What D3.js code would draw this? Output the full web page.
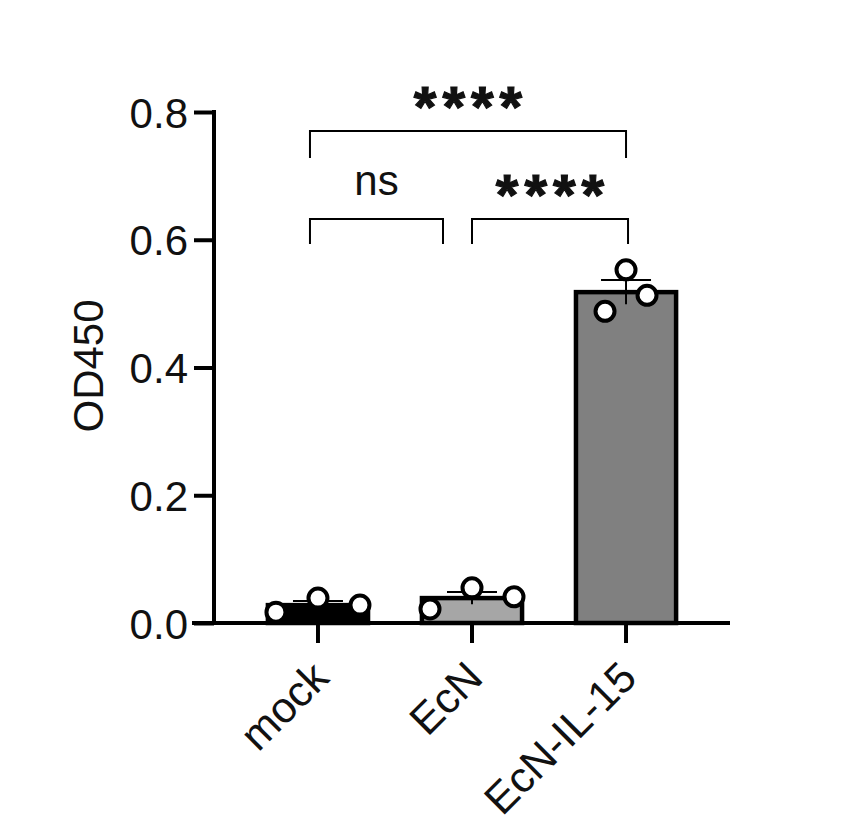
<!DOCTYPE html>
<html><head><meta charset="utf-8">
<script src="https://cdn.jsdelivr.net/npm/d3@7"></script>
<style>body{margin:0;background:#fff}</style>
</head><body>
<script>
const categories = ["mock", "EcN", "EcN-IL-15"];
const means = [0.028, 0.039, 0.518];
const sems = [0.0065, 0.0095, 0.019];
const points = [[0.017, 0.039, 0.028], [0.022, 0.055, 0.041], [0.488, 0.553, 0.513]];
const barColors = ["#000000", "#a6a6a6", "#808080"];
const yTicks = [0, 0.2, 0.4, 0.6, 0.8];
const comparisons = [
  {from: "mock", to: "EcN-IL-15", label: "****", level: 1},
  {from: "mock", to: "EcN", label: "ns", level: 0},
  {from: "EcN", to: "EcN-IL-15", label: "****", level: 0}
];

const W = 847, H = 840;
const svg = d3.select("body").append("svg").attr("width", W).attr("height", H)
  .style("font-family", "Liberation Sans, Arial, sans-serif");

const x = d3.scaleBand().domain(categories).range([214, 730]).paddingInner(0.35).paddingOuter(0.35);
const y = d3.scaleLinear().domain([0, 0.8]).range([623, 112]);

// bars
svg.selectAll("rect.bar").data(categories).enter().append("rect")
  .attr("x", d => x(d)).attr("width", x.bandwidth())
  .attr("y", (d, i) => y(means[i])).attr("height", (d, i) => y(0) - y(means[i]))
  .attr("fill", (d, i) => barColors[i]).attr("stroke", "#000").attr("stroke-width", 4.5);

// error bars (upper cap only)
categories.forEach((c, i) => {
  const cx = x(c) + x.bandwidth() / 2;
  const g = svg.append("g");
  g.append("line").attr("x1", cx).attr("x2", cx)
    .attr("y1", y(means[i] - sems[i])).attr("y2", y(means[i] + sems[i]))
    .attr("stroke", "#000").attr("stroke-width", 2);
  g.append("line").attr("x1", cx - 25).attr("x2", cx + 25)
    .attr("y1", y(means[i] + sems[i])).attr("y2", y(means[i] + sems[i]))
    .attr("stroke", "#000").attr("stroke-width", 2);
});

// points
const offsets = [[-42, 0, 42], [-42, 0, 42], [-21, 0, 21]];
categories.forEach((c, i) => {
  const cx = x(c) + x.bandwidth() / 2;
  svg.selectAll(null).data(points[i]).enter().append("circle")
    .attr("cx", (d, j) => cx + offsets[i][j]).attr("cy", d => y(d)).attr("r", 9.5)
    .attr("fill", "#fff").attr("stroke", "#000").attr("stroke-width", 4);
});

// axes
const yAxis = d3.axisLeft(y).tickValues(yTicks).tickFormat(d3.format(".1f")).tickSize(20).tickSizeOuter(0).tickPadding(6);
const gy = svg.append("g").attr("transform", "translate(214,0)").call(yAxis);
gy.select(".domain").attr("stroke-width", 4).attr("d", `M0,${y(0.8)-2}V${y(0)}`);
gy.selectAll(".tick line").attr("stroke-width", 4);
gy.selectAll(".tick text").attr("font-size", 42).attr("fill", "#111").attr("dy", "0.36em");

const xAxis = d3.axisBottom(x).tickSize(20).tickSizeOuter(0).tickPadding(10);
const gx = svg.append("g").attr("transform", `translate(0,${y(0)})`).call(xAxis);
gx.select(".domain").attr("stroke-width", 4).attr("d", "M192,0H730");
gx.selectAll(".tick line").attr("stroke-width", 4);
gx.selectAll(".tick text").attr("font-size", 43).attr("fill", "#111")
  .attr("text-anchor", "end").attr("x", 0).attr("y", 0).attr("dy", 0)
  .attr("transform", "translate(13,57) rotate(-45)");

svg.append("text").attr("transform", "translate(103,366) rotate(-90)")
  .attr("text-anchor", "middle").attr("font-size", 42).attr("fill", "#111").text("OD450");

// brackets
const levelY = [219, 131];
comparisons.forEach(cmp => {
  let x1 = x(cmp.from) + x.bandwidth() / 2 - 8;
  let x2 = x(cmp.to) + x.bandwidth() / 2;
  if (cmp.level === 0) {
    if (cmp.to === "EcN") x2 -= 29;
    if (cmp.from === "EcN") x1 = x(cmp.from) + x.bandwidth() / 2;
    if (cmp.to === "EcN-IL-15") x2 += 2;
  }
  const yt = levelY[cmp.level];
  const yb = yt + (cmp.level === 0 ? 25 : 27);
  svg.append("path").attr("d", `M${x1},${yb}V${yt}H${x2}V${yb}`)
    .attr("fill", "none").attr("stroke", "#000").attr("stroke-width", 2);
  const isStar = cmp.label.includes("*");
  svg.append("text").attr("x", (x1 + x2) / 2 + (isStar ? 3 : 0)).attr("y", yt + (isStar ? -4 : -24))
    .attr("text-anchor", "middle").attr("font-size", isStar ? 58 : 42)
    .attr("font-weight", isStar ? "bold" : "normal")
    .attr("letter-spacing", isStar ? 6 : 0)
    .attr("stroke", isStar ? "#111" : "none").attr("stroke-width", isStar ? 1.2 : 0)
    .attr("fill", "#111").text(cmp.label);
});
</script>
</body></html>
